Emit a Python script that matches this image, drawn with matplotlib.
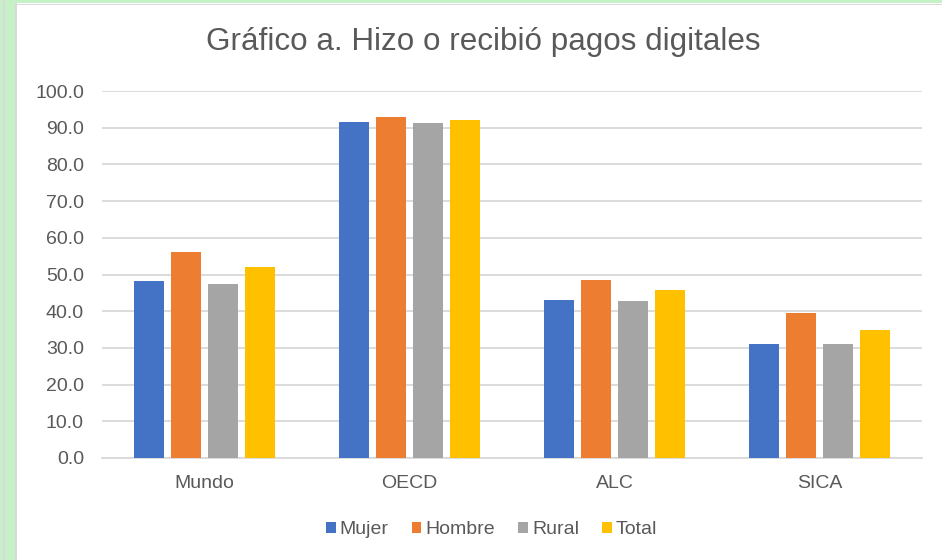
import numpy as np
import matplotlib.pyplot as plt
from matplotlib.patches import Rectangle

plt.rcParams['font.family'] = ['Liberation Sans', 'DejaVu Sans']

categorias = ['Mundo', 'OECD', 'ALC', 'SICA']
series = ['Mujer', 'Hombre', 'Rural', 'Total']
mujer = [48.2, 91.5, 43.0, 31.1]
hombre = [56.1, 92.9, 48.5, 39.5]
rural = [47.4, 91.3, 42.8, 31.1]
total = [52.0, 92.1, 45.8, 34.9]
colores = ['#4472C4', '#ED7D31', '#A5A5A5', '#FFC000']
yticks = np.arange(0, 101, 10)

W, H = 942, 560
fig = plt.figure(figsize=(W / 100, H / 100), dpi=100)

# marco verde claro de la hoja
fig.patches.append(Rectangle((0, 0), 15 / W, 1, transform=fig.transFigure,
                             facecolor='#c6f0c6', edgecolor='none', zorder=0))
fig.patches.append(Rectangle((0, 1 - 3 / H), 1, 3 / H, transform=fig.transFigure,
                             facecolor='#c6f0c6', edgecolor='none', zorder=0))
fig.patches.append(Rectangle((3 / W, 0), 1.5 / W, 1, transform=fig.transFigure,
                             facecolor='#d9d9d9', edgecolor='none', zorder=1))
fig.patches.append(Rectangle((15 / W, 0), 1.5 / W, 1 - 3 / H, transform=fig.transFigure,
                             facecolor='#d9d9d9', edgecolor='none', zorder=1))
fig.patches.append(Rectangle((15 / W, 1 - 5 / H), 1, 1.5 / H, transform=fig.transFigure,
                             facecolor='#d9d9d9', edgecolor='none', zorder=1))

ax = fig.add_axes([102 / W, 1 - 458 / H, 820 / W, 367 / H])

x = np.arange(len(categorias))
slot = 0.18
ancho = 0.147
for i, (nombre, vals) in enumerate(zip(series, [mujer, hombre, rural, total])):
    ax.bar(x + (i - 1.5) * slot, vals, width=ancho, color=colores[i], label=nombre, zorder=3)

ax.set_xlim(-0.5, len(categorias) - 0.5)
ax.set_ylim(0, 100)
ax.set_yticks(yticks)
ax.set_yticklabels(['{:.1f}'.format(v) for v in yticks])
ax.set_xticks(x)
ax.set_xticklabels(categorias)
ax.yaxis.grid(True, color='#d9d9d9', linewidth=1.3, zorder=0)
ax.set_axisbelow(True)
for s in ['top', 'right', 'left']:
    ax.spines[s].set_visible(False)
ax.spines['bottom'].set_color('#d9d9d9')
ax.spines['bottom'].set_linewidth(1.3)
ax.tick_params(axis='both', length=0, labelsize=14, colors='#595959')
ax.tick_params(axis='y', pad=13)
ax.tick_params(axis='x', pad=12)

fig.text(483 / W, 1 - 42 / H, 'Gráfico a. Hizo o recibió pagos digitales',
         ha='center', va='center', fontsize=22.6, color='#595959')

ax.legend(loc='center', bbox_to_anchor=(0.475, (458 - 530) / 367), ncol=4, frameon=False,
          fontsize=14, labelcolor='#595959', handlelength=0.5, handleheight=0.5,
          handletextpad=0.2, columnspacing=1.2)

fig.savefig('out.png', dpi=100)
